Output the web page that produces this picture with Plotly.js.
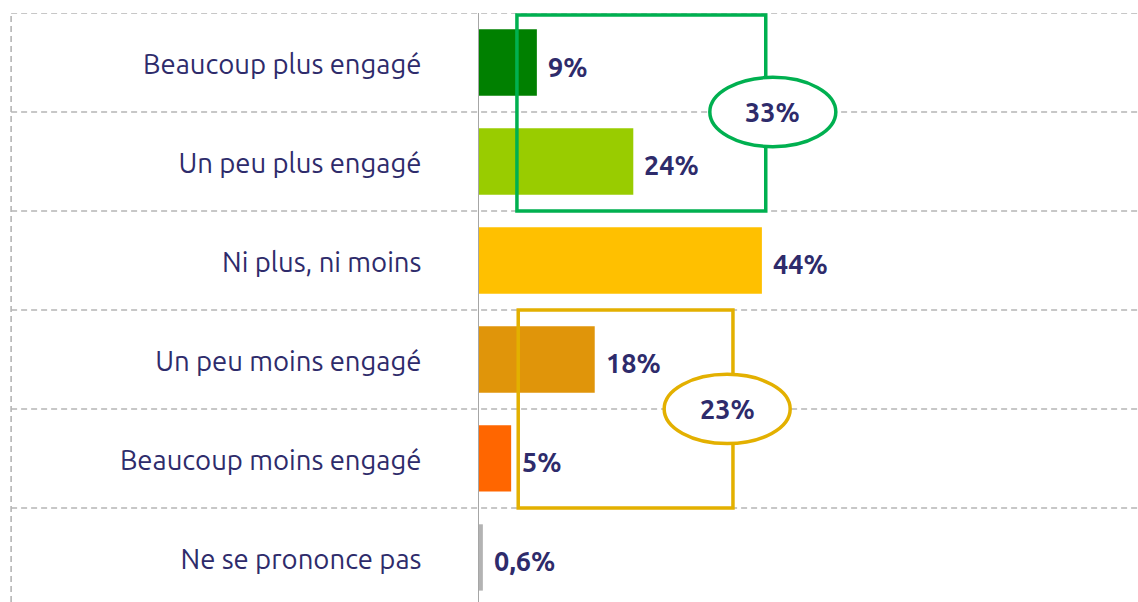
<!DOCTYPE html>
<html>
<head>
<meta charset="utf-8">
<script src="https://cdn.plot.ly/plotly-3.0.1.min.js"></script>
<style>
	html, body {margin:0; padding:0; background:#fff;}
	#chart {width:1138px; height:602px;}
</style>
</head>
<body>
<div id="chart"></div>
<script>
// data
const categories = ['Beaucoup plus engagé','Un peu plus engagé','Ni plus, ni moins','Un peu moins engagé','Beaucoup moins engagé','Ne se prononce pas'];
const values = [9, 24, 44, 18, 5, 0.6];
const barColors = ['#008000','#99cc00','#ffc000','#e0950a','#ff6600','#b3b3b3'];
// rows grouped in the boxes
const plusRows = [0, 1];
const moinsRows = [3, 4];

const navy = '#2e2b6b';
const font = 'Ubuntu, "Noto Sans", "Open Sans", sans-serif';

const fmt = (v) => String(v).replace('.', ',') + '%';
const sumRows = (rows) => rows.reduce((s, i) => s + values[i], 0);

const chart = (()=>{

	const buildShapes = () => {
		let shapes = [];
		// dashed row separators and left border
		for (let i = 0; i < categories.length; i++){
			shapes.push({type:'line', xref:'paper', yref:'y', x0:-0.71, x1:1, y0:i-0.5, y1:i-0.5,
				line:{color:'#b5b5b5', width:1.6, dash:'6px,4px'}, layer:'below'});
		}
		shapes.push({type:'line', xref:'paper', yref:'paper', x0:-0.71, x1:-0.71, y0:0, y1:1,
			line:{color:'#b5b5b5', width:1.6, dash:'6px,4px'}, layer:'below'});
		// group boxes
		shapes.push({type:'rect', xref:'x', yref:'y', x0:5.9, x1:44.6, y0:-0.48, y1:1.5,
			line:{color:'#00b050', width:3.5}, layer:'above'});
		shapes.push({type:'circle', xref:'x', yref:'y', x0:35.9, x1:55.5, y0:0.15, y1:0.85,
			fillcolor:'#ffffff', line:{color:'#00b050', width:3.5}, layer:'above'});
		shapes.push({type:'rect', xref:'x', yref:'y', x0:6.1, x1:39.5, y0:2.5, y1:4.5,
			line:{color:'#e3b000', width:3.5}, layer:'above'});
		shapes.push({type:'circle', xref:'x', yref:'y', x0:28.8, x1:48.4, y0:3.15, y1:3.85,
			fillcolor:'#ffffff', line:{color:'#e3b000', width:3.5}, layer:'above'});
		return shapes;
	}

	const buildAnnotations = () => {
		let notes = [];
		const bold = {family:font, size:27, color:navy, weight:'bold'};
		for (let i = 0; i < values.length; i++){
			notes.push({x:values[i], y:categories[i], xref:'x', yref:'y', text:fmt(values[i]),
				showarrow:false, xanchor:'left', xshift:9, yshift:-4, font:bold});
		}
		notes.push({x:45.7, y:0.5, xref:'x', yref:'y', text:fmt(sumRows(plusRows)), showarrow:false, font:bold});
		notes.push({x:38.6, y:3.5, xref:'x', yref:'y', text:fmt(sumRows(moinsRows)), showarrow:false, font:bold});
		return notes;
	}

	const draw = () => {
		let data = [{
			type:'bar',
			orientation:'h',
			x:values,
			y:categories,
			width:0.67,
			marker:{color:barColors},
			hoverinfo:'none'
		}];

		let layout = {
			width:1138, height:602,
			margin:{l:479, r:0, t:13, b:0},
			paper_bgcolor:'#ffffff',
			plot_bgcolor:'rgba(0,0,0,0)',
			showlegend:false,
			xaxis:{range:[0, 102.5], showgrid:false, zeroline:false, showticklabels:false, fixedrange:true},
			yaxis:{type:'category', range:[5.45, -0.5], showgrid:false, zeroline:false,
				showline:true, linecolor:'#a6a6a6', linewidth:1, ticks:'',
				ticklabelstandoff:51, ticklabelshift:-2,
				tickfont:{family:font, size:27.5, color:navy}},
			shapes:buildShapes(),
			annotations:buildAnnotations()
		};

		Plotly.newPlot('chart', data, layout, {staticPlot:true});
	}

	return {draw}
})();

chart.draw();
</script>
</body>
</html>
